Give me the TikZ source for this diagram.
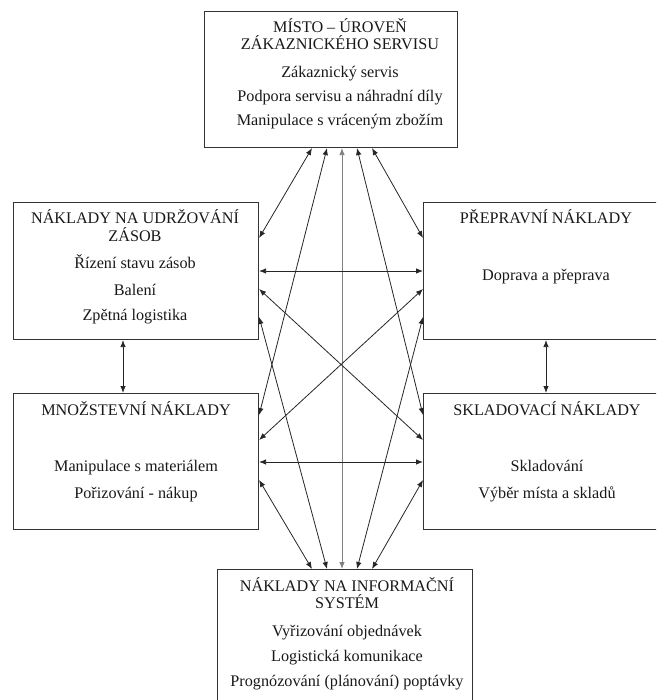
\documentclass[tikz,border=0pt]{standalone}
\usepackage{fontspec}
\setmainfont{Liberation Serif}
\usetikzlibrary{arrows.meta}
\begin{document}
\begin{tikzpicture}[x=1pt,y=-1pt,
  box/.style={draw=black!80, line width=1.1pt, fill=white, inner sep=0pt, anchor=north west},
  txt/.style={anchor=base, inner sep=0pt, text=black!90, font=\fontsize{16.2}{17.5}\selectfont},
  arr/.style={{Latex[length=7pt,width=5.5pt]}-{Latex[length=7pt,width=5.5pt]}, line width=0.8pt, draw=black!85},
  garr/.style={arr, draw=black!50}]
\path[use as bounding box] (0,0) rectangle (656,700);
\clip (0,0) rectangle (656,700);
% boxes
\node[box, minimum width=253, minimum height=136] (top) at (204,11) {};
\node[box, minimum width=245, minimum height=137] (ul) at (13,202) {};
\node[box, minimum width=240, minimum height=137] (ur) at (423,202) {};
\node[box, minimum width=245, minimum height=136] (ll) at (13,393) {};
\node[box, minimum width=240, minimum height=136] (lr) at (423,393) {};
\node[box, minimum width=255, minimum height=140] (bot) at (217,569) {};
% texts: top
\node[txt] (t1) at (340,33) {MÍSTO – ÚROVEŇ};
\node[txt] (t2) at (340,50) {ZÁKAZNICKÉHO SERVISU};
\node[txt] (t3) at (340,78) {Zákaznický servis};
\node[txt] (t4) at (340,102) {Podpora servisu a náhradní díly};
\node[txt] (t5) at (340,126) {Manipulace s vráceným zbožím};
% upper left
\node[txt] (a1) at (135,224) {NÁKLADY NA UDRŽOVÁNÍ};
\node[txt] (a2) at (135,241) {ZÁSOB};
\node[txt] (a3) at (135,269) {Řízení stavu zásob};
\node[txt] (a4) at (135,295) {Balení};
\node[txt] (a5) at (135,320) {Zpětná logistika};
% upper right
\node[txt] (b1) at (546,224) {PŘEPRAVNÍ NÁKLADY};
\node[txt] (b2) at (546,280) {Doprava a přeprava};
% lower left
\node[txt] (c1) at (136,415) {MNOŽSTEVNÍ NÁKLADY};
\node[txt] (c2) at (136,471) {Manipulace s materiálem};
\node[txt] (c3) at (136,498) {Pořizování - nákup};
% lower right
\node[txt] (d1) at (547,415) {SKLADOVACÍ NÁKLADY};
\node[txt] (d2) at (547,471) {Skladování};
\node[txt] (d3) at (547,498) {Výběr místa a skladů};
% bottom
\node[txt] (e1) at (347,591) {NÁKLADY NA INFORMAČNÍ};
\node[txt] (e2) at (347,608) {SYSTÉM};
\node[txt] (e3) at (347,636) {Vyřizování objednávek};
\node[txt] (e4) at (347,661) {Logistická komunikace};
\node[txt] (e5) at (347,686) {Prognózování (plánování) poptávky};
% arrows from top box
\draw[arr] (top.south -| 312,0) -- (ul.east |- 0,238);
\draw[arr] (top.south -| 327,0) -- (ll.east |- 0,415);
\draw[garr] (top.south -| 342,0) -- (bot.north -| 342,0);
\draw[arr] (top.south -| 357,0) -- (lr.west |- 0,415);
\draw[arr] (top.south -| 372,0) -- (ur.west |- 0,238);
% horizontals
\draw[arr] (ul.east |- 0,271) -- (ur.west |- 0,271);
\draw[arr] (ll.east |- 0,462) -- (lr.west |- 0,462);
% cross
\draw[arr] (ul.east |- 0,289) -- (lr.west |- 0,440);
\draw[arr] (ur.west |- 0,289) -- (ll.east |- 0,440);
% arrows from bottom box
\draw[arr] (bot.north -| 312,0) -- (ll.east |- 0,480);
\draw[arr] (bot.north -| 327,0) -- (ul.east |- 0,317);
\draw[arr] (bot.north -| 357,0) -- (ur.west |- 0,317);
\draw[arr] (bot.north -| 372,0) -- (lr.west |- 0,480);
% verticals between side boxes
\draw[arr] (ul.south -| 123,0) -- (ll.north -| 123,0);
\draw[arr] (ur.south -| 546,0) -- (lr.north -| 546,0);
\end{tikzpicture}
\end{document}
